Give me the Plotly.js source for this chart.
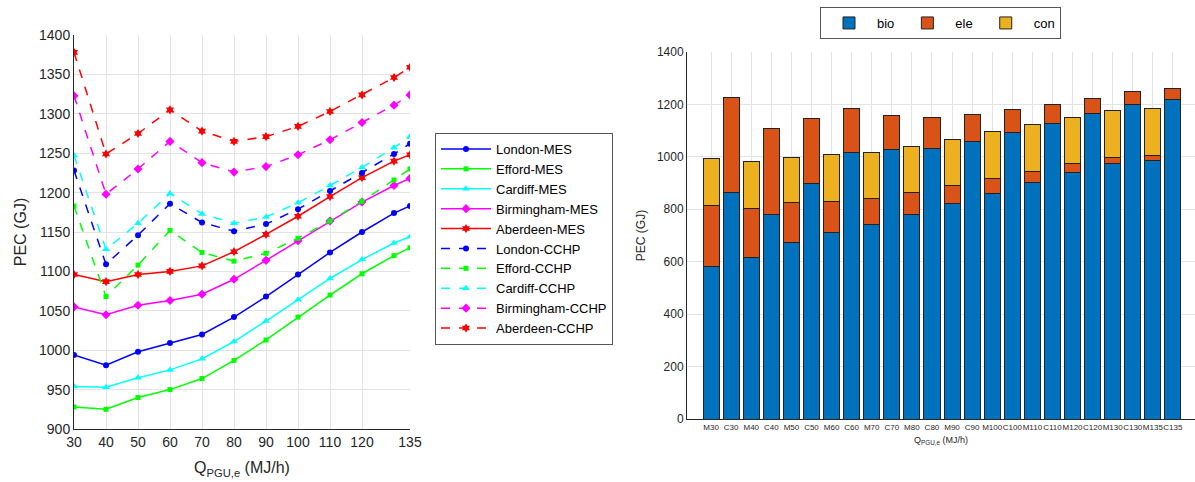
<!DOCTYPE html>
<html>
<head>
<meta charset="utf-8">
<script src="https://cdn.plot.ly/plotly-3.0.1.min.js"></script>
<style>html,body{margin:0;padding:0;background:#fff;}#chart{width:1195px;height:482px;}</style>
</head>
<body>
<div id="chart"></div>
<script>
// ---- Left chart data ----
const qValues = [30, 40, 50, 60, 70, 80, 90, 100, 110, 120, 130, 135];
const qTicks = [30, 40, 50, 60, 70, 80, 90, 100, 110, 120, 135];

const londonMES     = [994, 981, 998, 1009, 1020, 1042, 1068, 1096, 1124, 1150, 1174, 1183];
const effordMES     = [928, 925, 940, 950, 964, 987, 1013, 1042, 1070, 1097, 1120, 1130];
const cardiffMES    = [954, 953, 965, 975, 989, 1011, 1037, 1064, 1091, 1115, 1136, 1144];
const birminghamMES = [1055, 1045, 1057, 1063, 1071, 1090, 1114, 1139, 1164, 1188, 1209, 1218];
const aberdeenMES   = [1096, 1087, 1096, 1100, 1107, 1125, 1147, 1170, 1195, 1219, 1240, 1248];
const londonCCHP     = [1228, 1109, 1146, 1186, 1162, 1151, 1160, 1179, 1202, 1225, 1249, 1262];
const effordCCHP     = [1183, 1068, 1108, 1152, 1124, 1113, 1123, 1142, 1164, 1189, 1216, 1230];
const cardiffCCHP    = [1247, 1128, 1161, 1199, 1173, 1161, 1169, 1187, 1209, 1232, 1257, 1271];
const birminghamCCHP = [1323, 1198, 1230, 1265, 1238, 1226, 1233, 1248, 1267, 1289, 1311, 1324];
const aberdeenCCHP   = [1378, 1249, 1275, 1305, 1278, 1265, 1271, 1284, 1303, 1324, 1346, 1359];

// ---- Right chart data ----
const caseLabels = ['M30','C30','M40','C40','M50','C50','M60','C60','M70','C70','M80','C80',
                    'M90','C90','M100','C100','M110','C110','M120','C120','M130','C130','M135','C135'];
const bio = [581, 865, 615, 782, 675, 899, 713, 1017, 741, 1028, 780, 1033,
             822, 1060, 862, 1092, 904, 1129, 941, 1166, 976, 1200, 987, 1218];
const ele = [235, 363, 188, 325, 149, 247, 118, 169, 100, 131, 85, 117,
             69, 100, 56, 87, 41, 72, 32, 58, 22, 50, 19, 43];
const con = [178, null, 178, null, 175, null, 177, null, 177, null, 176, null,
             177, null, 177, null, 177, null, 177, null, 177, null, 177, null];

const FONT = 'Liberation Sans, Arial, Helvetica, sans-serif';
const TXT = '#262626';

const seriesDefs = [
  {name: 'London-MES', y: londonMES, color: '#0000FF', symbol: 'circle', size: 6, dash: 'solid'},
  {name: 'Efford-MES', y: effordMES, color: '#00FF00', symbol: 'square', size: 5, dash: 'solid'},
  {name: 'Cardiff-MES', y: cardiffMES, color: '#00FFFF', symbol: 'triangle-up', size: 7, dash: 'solid'},
  {name: 'Birmingham-MES', y: birminghamMES, color: '#FF00FF', symbol: 'diamond', size: 7, dash: 'solid'},
  {name: 'Aberdeen-MES', y: aberdeenMES, color: '#FF0000', symbol: 'hexagram', size: 7, dash: 'solid'},
  {name: 'London-CCHP', y: londonCCHP, color: '#0000FF', symbol: 'circle', size: 6, dash: 'dash'},
  {name: 'Efford-CCHP', y: effordCCHP, color: '#00FF00', symbol: 'square', size: 5, dash: 'dash'},
  {name: 'Cardiff-CCHP', y: cardiffCCHP, color: '#00FFFF', symbol: 'triangle-up', size: 7, dash: 'dash'},
  {name: 'Birmingham-CCHP', y: birminghamCCHP, color: '#FF00FF', symbol: 'diamond', size: 7, dash: 'dash'},
  {name: 'Aberdeen-CCHP', y: aberdeenCCHP, color: '#FF0000', symbol: 'hexagram', size: 7, dash: 'dash'}
];

const traces = seriesDefs.map(s => ({
  type: 'scatter', mode: 'lines+markers', name: s.name,
  x: qValues, y: s.y, xaxis: 'x', yaxis: 'y', legend: 'legend',
  line: {color: s.color, width: 1.5, dash: s.dash},
  marker: {color: s.color, symbol: s.symbol, size: s.size}
}));

const barParts = [
  {name: 'bio', y: bio, color: '#0072BD'},
  {name: 'ele', y: ele, color: '#D95319'},
  {name: 'con', y: con, color: '#EDB120'}
];
barParts.forEach(p => traces.push({
  type: 'bar', name: p.name, x: caseLabels, y: p.y, xaxis: 'x2', yaxis: 'y2', legend: 'legend2',
  marker: {color: p.color, line: {color: '#222222', width: 1}}
}));

const W = 1195, H = 482;
const px = v => v / W, py = v => (H - v) / H;

const layout = {
  width: W, height: H,
  margin: {l: 0, r: 0, t: 0, b: 0},
  paper_bgcolor: '#fff', plot_bgcolor: '#fff',
  font: {family: FONT, color: TXT},
  barmode: 'stack', bargap: 0.2,
  showlegend: true,
  xaxis: {
    domain: [px(74), px(410)], anchor: 'y',
    range: [30, 135], tickmode: 'array', tickvals: qTicks, ticktext: qTicks.map(String),
    showgrid: true, gridcolor: '#e3e3e3', zeroline: false,
    showline: true, linecolor: TXT, linewidth: 1, ticks: '',
    tickfont: {size: 14, color: TXT, family: FONT},
    title: {text: 'Q<sub>PGU,e</sub> (MJ/h)', font: {size: 16, color: TXT, family: FONT}, standoff: 13}
  },
  yaxis: {
    domain: [py(429), py(35)], anchor: 'x',
    range: [900, 1400], dtick: 50,
    showgrid: true, gridcolor: '#e3e3e3', zeroline: false,
    showline: true, linecolor: TXT, linewidth: 1, ticks: '',
    tickfont: {size: 14, color: TXT, family: FONT},
    title: {text: 'PEC (GJ)', font: {size: 16, color: TXT, family: FONT}, standoff: 8}
  },
  xaxis2: {
    domain: [px(687), 1], anchor: 'y2',
    type: 'category', range: [-1.2, 24.1],
    showgrid: true, gridcolor: '#e3e3e3', zeroline: false,
    showline: true, linecolor: TXT, linewidth: 1, ticks: '',
    tickangle: 0,
    tickfont: {size: 8, color: TXT, family: FONT},
    title: {text: 'Q<sub>PGU,e</sub> (MJ/h)', font: {size: 9, color: TXT, family: FONT}, standoff: 6}
  },
  yaxis2: {
    domain: [py(419), py(52)], anchor: 'x2',
    range: [0, 1400], dtick: 200,
    showgrid: true, gridcolor: '#e3e3e3', zeroline: false,
    showline: true, linecolor: TXT, linewidth: 1, ticks: '',
    tickfont: {size: 12, color: TXT, family: FONT},
    title: {text: 'PEC (GJ)', font: {size: 12, color: TXT, family: FONT}, standoff: 8}
  },
  legend: {
    x: px(435), y: py(133), xanchor: 'left', yanchor: 'top',
    bordercolor: '#555', borderwidth: 1, bgcolor: '#fff',
    font: {size: 13, color: '#000', family: FONT},
    itemwidth: 50, tracegroupgap: 0
  },
  legend2: {
    orientation: 'h', x: px(820), y: py(7), xanchor: 'left', yanchor: 'top',
    bordercolor: '#555', borderwidth: 1, bgcolor: '#fff',
    font: {size: 13, color: '#000', family: FONT},
    itemwidth: 46, traceorder: 'normal'
  }
};

Plotly.newPlot('chart', traces, layout, {staticPlot: true, displayModeBar: false});
</script>
</body>
</html>
